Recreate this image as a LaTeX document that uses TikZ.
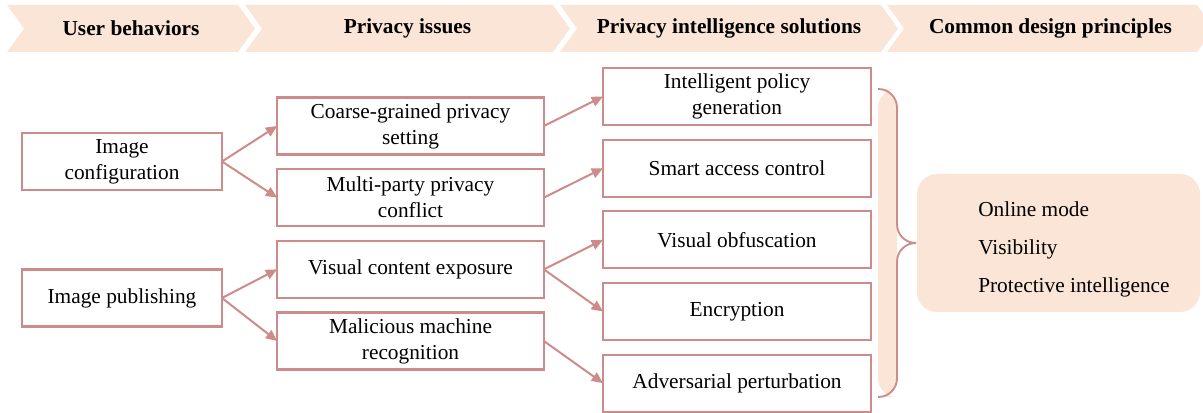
\documentclass[tikz,border=0pt]{standalone}
\usepackage{fontspec}
\setmainfont{Liberation Serif}
\usepackage{xcolor}
\usetikzlibrary{shapes,arrows.meta,positioning}
\definecolor{peach}{HTML}{FBE5D6}
\definecolor{rose}{RGB}{205,140,138}

\begin{document}
\begin{tikzpicture}[
    x=0.75pt, y=-0.75pt,
    header/.style={signal, signal to=east, signal from=west, signal pointer angle=108, fill=peach, minimum height=35.25pt, inner sep=0pt, outer sep=0pt, font=\fontsize{16}{19.5}\selectfont\bfseries},
    box/.style={rectangle, draw=rose, line width=1.6pt, fill=white, align=center, minimum height=42.75pt, inner sep=2pt, outer sep=0pt, font=\fontsize{16}{19.5}\selectfont},
    behaviorbox/.style={box, minimum width=150pt},
    issuebox/.style={box, minimum width=200pt},
    solutionbox/.style={box, minimum width=201pt},
    principlebox/.style={rectangle, rounded corners=15pt, fill=peach, minimum width=212.25pt, minimum height=103.5pt},
    arrow/.style={-{Triangle[length=8.5pt,width=7.5pt]}, draw=rose, line width=1.5pt}
]
\useasboundingbox (0,0) rectangle (1203,413);

% Header band
\node[header, minimum width=186pt] (head-behaviors) at (131,28.5) {User behaviors};
\node[header, minimum width=243.75pt] (head-issues) at (407.5,28.5) {Privacy issues};
\node[header, minimum width=253.5pt] (head-solutions) at (729,28.5) {Privacy intelligence solutions};
\node[header, minimum width=245.25pt] (head-principles) at (1050.5,28.5) {Common design principles};

% User behaviors
\node[behaviorbox] (config) at (122,161.5) {Image\\configuration};
\node[behaviorbox] (publish) at (122,298) {Image publishing};

% Privacy issues
\node[issuebox] (coarse) at (410.5,126) {Coarse-grained privacy\\setting};
\node[issuebox, below=11pt of coarse] (multiparty) {Multi-party privacy\\conflict};
\node[issuebox, below=11pt of multiparty] (exposure) {Visual content exposure};
\node[issuebox, below=11pt of exposure] (malicious) {Malicious machine\\recognition};

% Privacy intelligence solutions
\node[solutionbox] (policy) at (737,96.5) {Intelligent policy\\generation};
\node[solutionbox, below=11pt of policy] (access) {Smart access control};
\node[solutionbox, below=11pt of access] (obfuscation) {Visual obfuscation};
\node[solutionbox, below=11pt of obfuscation] (encryption) {Encryption};
\node[solutionbox, below=11pt of encryption] (adversarial) {Adversarial perturbation};

% Brace
\coordinate (brace-top) at (878,89);
\coordinate (brace-tip) at (916,243);
\coordinate (brace-bottom) at (878,397);
\fill[peach, rounded corners=14pt] (brace-top) -- (897,89) -- (897,397) -- (brace-bottom) -- cycle;
\draw[rose, line width=1.4pt, rounded corners=14pt] (brace-top) -- (897,89) -- (897,243) -- (brace-tip);
\draw[rose, line width=1.4pt, rounded corners=14pt] (brace-bottom) -- (897,397) -- (897,243) -- (brace-tip);

% Common design principles
\node[principlebox] (principles) at (1058.5,243) {};
\node[anchor=west, align=left, inner sep=0pt, font=\fontsize{16}{28.5}\selectfont] (principles-list) at (978,249) {Online mode\\Visibility\\Protective intelligence};

% Arrows to issues
\draw[arrow] (config.east) -- (coarse.west);
\draw[arrow] (config.east) -- (multiparty.west);
\draw[arrow] (publish.east) -- (exposure.west);
\draw[arrow] (publish.east) -- (malicious.west);

% Arrows to solutions
\draw[arrow] (coarse.east) -- (policy.west);
\draw[arrow] (multiparty.east) -- (access.west);
\draw[arrow] (exposure.east) -- (obfuscation.west);
\draw[arrow] (exposure.east) -- (encryption.west);
\draw[arrow] (malicious.east) -- (adversarial.west);

\end{tikzpicture}
\end{document}
